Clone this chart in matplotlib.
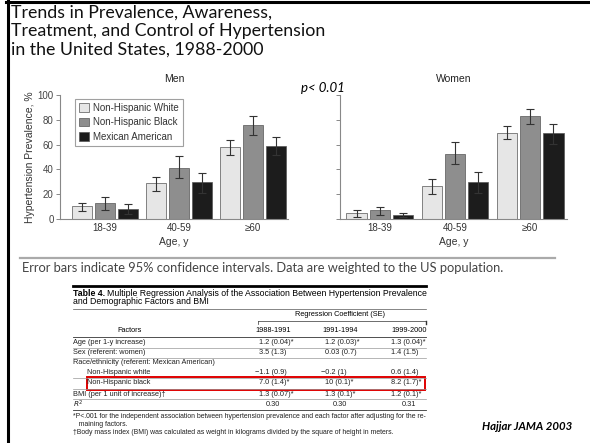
import matplotlib.pyplot as plt
import numpy as np
from matplotlib.lines import Line2D
from matplotlib.patches import Rectangle

W, H = 590, 443

age_groups = ["18-39", "40-59", "\u226560"]
races = ["Non-Hispanic White", "Non-Hispanic Black", "Mexican American"]
race_colors = ["#e6e6e6", "#8e8e8e", "#1c1c1c"]

# prevalence (%) and 95% CI, one row per race, columns = age groups
men_vals = [[10.5, 28.8, 58.0], [12.9, 41.0, 75.8], [8.3, 29.6, 59.1]]
men_lo = [[6.5, 22.8, 51.6], [7.5, 32.8, 67.5], [4.0, 21.0, 51.6]]
men_hi = [[12.6, 33.6, 63.4], [18.0, 50.5, 82.8], [11.8, 37.0, 66.4]]
women_vals = [[4.6, 26.3, 69.0], [7.3, 52.2, 82.8], [3.2, 29.6, 69.0]]
women_lo = [[1.9, 20.4, 64.2], [3.0, 44.0, 76.3], [1.6, 21.2, 60.8]]
women_hi = [[7.0, 32.0, 74.7], [9.4, 61.8, 88.4], [4.8, 38.2, 76.3]]

# table 4
years = ["1988-1991", "1991-1994", "1999-2000"]
factors = [
    "Age (per 1-y increase)",
    "Sex (referent: women)",
    "Race/ethnicity (referent: Mexican American)",
    "Non-Hispanic white",
    "Non-Hispanic black",
    "BMI (per 1 unit of increase)\u2020",
    "$R^2$",
]
indent = [False, False, False, True, True, False, False]
coef_1988 = ["1.2 (0.04)*", "3.5 (1.3)", "", "\u22121.1 (0.9)", "7.0 (1.4)*", "1.3 (0.07)*", "0.30"]
coef_1991 = ["1.2 (0.03)*", "0.03 (0.7)", "", "\u22120.2 (1)", "10 (0.1)*", "1.3 (0.1)*", "0.30"]
coef_1999 = ["1.3 (0.04)*", "1.4 (1.5)", "", "0.6 (1.4)", "8.2 (1.7)*", "1.2 (0.1)*", "0.31"]
footnotes = [
    "*P<.001 for the independent association between hypertension prevalence and each factor after adjusting for the re-",
    "   maining factors.",
    "\u2020Body mass index (BMI) was calculated as weight in kilograms divided by the square of height in meters.",
]


def fx(x):
    return x / W


def fy(y):
    return 1 - y / H


def hline(fig, x0, x1, y, color, lw):
    fig.add_artist(Line2D([fx(x0), fx(x1)], [fy(y), fy(y)], color=color, lw=lw))


fig = plt.figure(figsize=(5.9, 4.43), dpi=100)
chart_font = "Liberation Sans"
slide_font = "Lato"

# slide frame
hline(fig, 6, 590, 2.0, "black", 2.2)
fig.add_artist(Line2D([fx(7.5), fx(7.5)], [fy(0), fy(443)], color="black", lw=2.2))

fig.text(fx(11), fy(4.5), "Trends in Prevalence, Awareness,\nTreatment, and Control of Hypertension\nin the United States, 1988-2000",
         fontsize=12.8, family=slide_font, va="top", ha="left", linespacing=1.2, color="#111")


def draw_panel(rect, vals, lo, hi, title, show_y):
    ax = fig.add_axes(rect)
    x = np.arange(len(age_groups))
    width = 0.27
    offsets = [-0.31, 0, 0.31]
    for i, race in enumerate(races):
        v = np.array(vals[i])
        err = [v - np.array(lo[i]), np.array(hi[i]) - v]
        ax.bar(x + offsets[i], v, width, color=race_colors[i], edgecolor="#555", linewidth=0.5, label=race)
        ax.errorbar(x + offsets[i], v, yerr=err, fmt="none", ecolor="#333", elinewidth=0.8, capsize=3, capthick=0.8)
    ax.set_ylim(0, 100)
    ax.set_yticks(range(0, 101, 20))
    ax.set_xticks(x)
    ax.set_xticklabels(age_groups, fontsize=7, family=chart_font, color="#333")
    ax.tick_params(axis="x", length=0, pad=3)
    ax.tick_params(axis="y", length=3, width=0.7, color="#888", labelsize=7, labelcolor="#444", pad=1.5)
    for s in ["top", "right"]:
        ax.spines[s].set_visible(False)
    for s in ["left", "bottom"]:
        ax.spines[s].set_color("#888")
        ax.spines[s].set_linewidth(0.8)
    ax.set_xlabel("Age, y", fontsize=7.5, family=chart_font, color="#333", labelpad=3)
    ax.set_title(title, fontsize=7.5, family=chart_font, color="#222", pad=9)
    if show_y:
        ax.set_ylabel("Hypertension Prevalence, %", fontsize=7.5, family=chart_font, color="#333", labelpad=2)
        for lab in ax.get_yticklabels():
            lab.set_family(chart_font)
    else:
        ax.set_yticklabels([])
    return ax


men_ax = draw_panel([fx(60), fy(219), fx(288) - fx(60), fy(95) - fy(219)], men_vals, men_lo, men_hi, "Men", True)
men_ax.set_xlim(-0.61, 2.47)
leg = men_ax.legend(loc="upper left", bbox_to_anchor=(0.045, 1.01), frameon=True, fancybox=False,
                    edgecolor="#888", handlelength=1.0, handleheight=1.0, handletextpad=0.4, labelspacing=0.45,
                    borderpad=0.45, prop={"family": chart_font, "size": 7})
leg.get_frame().set_linewidth(0.8)
for t in leg.get_texts():
    t.set_color("#333")

women_ax = draw_panel([fx(340), fy(219), fx(567) - fx(340), fy(95) - fy(219)], women_vals, women_lo, women_hi, "Women", False)
women_ax.set_xlim(-0.53, 2.49)

fig.text(fx(301), fy(88), "p< 0.01", fontsize=9.5, family=slide_font, style="italic", va="center", ha="left")

# caption
hline(fig, 20, 555, 258, "#aaa", 1.6)
fig.text(fx(22), fy(268), "Error bars indicate 95% confidence intervals. Data are weighted to the US population.",
         fontsize=9.3, family=slide_font, color="#444", va="center", ha="left")

# table
tl, tr = 73, 426
hline(fig, tl, tr, 286, "black", 2.0)
t1 = fig.text(fx(tl), fy(294), "Table 4.", fontsize=6.3, family=chart_font, weight="bold", va="center", ha="left")
fig.canvas.draw()
bb = t1.get_window_extent()
fig.text((bb.x1 + 1.5) / W, fy(294), "Multiple Regression Analysis of the Association Between Hypertension Prevalence",
         fontsize=6.3, family=chart_font, va="center", ha="left")
fig.text(fx(tl), fy(302), "and Demographic Factors and BMI", fontsize=6.3, family=chart_font, va="center", ha="left")
hline(fig, tl, tr, 308.5, "#555", 0.5)

fs = 5.3
fig.text(fx(340), fy(314), "Regression Coefficient (SE)", fontsize=fs, family=chart_font, va="center", ha="center")
hline(fig, 258, tr, 321, "#333", 0.5)
fig.add_artist(Line2D([fx(258), fx(258)], [fy(321), fy(324)], color="#333", lw=0.5))
fig.add_artist(Line2D([fx(tr), fx(tr)], [fy(321), fy(324)], color="#333", lw=1.0))
fig.text(fx(130), fy(331), "Factors", fontsize=fs, family=chart_font, va="center", ha="center")
col_x = [273, 340, 409]
for cx, yr in zip(col_x, years):
    fig.text(fx(cx), fy(331), yr, fontsize=fs, family=chart_font, va="center", ha="center")
hline(fig, tl, tr, 337, "#333", 0.6)

row_y = [343, 353, 363, 372, 383, 394, 404]
val_x = [259, 325, 391]
for r, (name, y) in enumerate(zip(factors, row_y)):
    fig.text(fx(tl + (14 if indent[r] else 0)), fy(y), name, fontsize=fs, family=chart_font, va="center", ha="left", color="#222")
    for c, col in enumerate([coef_1988, coef_1991, coef_1999]):
        s = col[r]
        if not s:
            continue
        if r == len(factors) - 1:
            fig.text(fx(col_x[c]), fy(y), s, fontsize=fs, family=chart_font, va="center", ha="center", color="#222")
        else:
            x0 = val_x[c] - (4 if s.startswith("\u2212") else 0)
            fig.text(fx(x0), fy(y), s, fontsize=fs, family=chart_font, va="center", ha="left", color="#222")

for y in [348, 358, 378, 389, 399]:
    hline(fig, tl, tr, y, "#999", 0.5)
hline(fig, tl, tr, 410, "#333", 0.6)

fig.add_artist(Rectangle((fx(87), fy(390)), fx(425) - fx(87), fy(377) - fy(390), fill=False, edgecolor="#e00000", lw=1.4))

for y, line in zip([417, 424.5, 432], footnotes):
    fig.text(fx(tl), fy(y), line, fontsize=4.95, family=chart_font, va="center", ha="left", color="#222")

fig.text(fx(572), fy(427), "Hajjar JAMA 2003", fontsize=8.2, family=slide_font, weight="bold", style="italic",
         va="center", ha="right")

fig.savefig("out.png", dpi=100)
